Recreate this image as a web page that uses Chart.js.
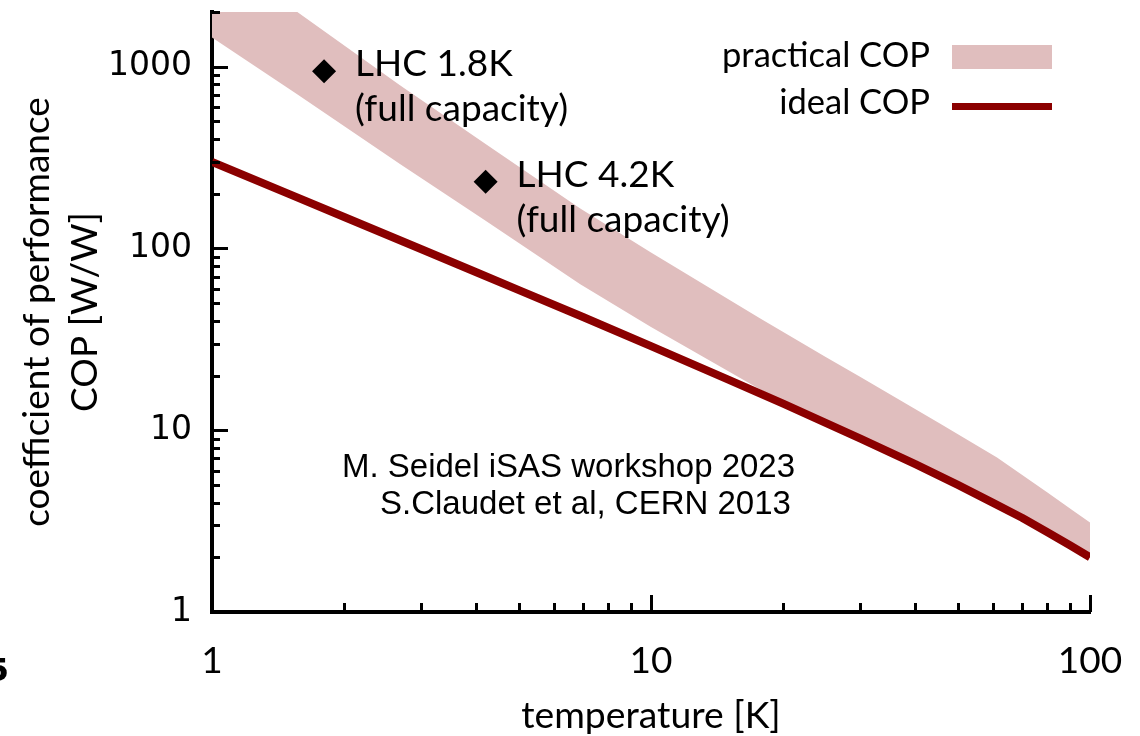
<!DOCTYPE html>
<html><head><meta charset="utf-8">
<script src="https://cdn.jsdelivr.net/npm/chart.js@4.4.0/dist/chart.umd.min.js"></script>
<style>html,body{margin:0;padding:0;background:#fff;}#wrap{width:1140px;height:736px;}</style>
</head><body><div id="wrap"><canvas id="c" width="1140" height="736"></canvas></div>
<script>
// ---- data ----
const idealT   = [1, 1.5, 2, 3, 4, 5, 7, 10, 15, 20, 30, 40, 50, 60, 70, 80, 90, 100];
const idealCOP = [299, 199, 149, 99, 74, 59, 42, 29, 19, 14, 9, 6.5, 5, 4, 3.3, 2.75, 2.33, 2];
const bandT          = [1, 1.56, 2.68, 4.2, 6.9, 10, 17.7, 25, 30, 45.5, 61.4, 80, 91.4, 100];
const practicalUpper = [4000, 2010, 790, 376, 166, 95, 41.3, 25.3, 19.6, 10.9, 7.07, 4.54, 3.62, 3.11];
const practicalLower = [1450, 707, 292, 142, 63.5, 37, 16.8, 11, 9, 5.6, 3.9, 2.75, 2.28, 2];
const lhcT   = [1.8, 4.2];
const lhcCOP = [944, 233];
const lhcLabels = [['LHC 1.8K', '(full capacity)'], ['LHC 4.2K', '(full capacity)']];
const xTickValues = [1, 10, 100];
const yTickValues = [1, 10, 100, 1000];
const seriesNames = ['practical COP', 'ideal COP'];
const creditLines = ['M. Seidel iSAS workshop 2023', 'S.Claudet et al, CERN 2013'];
const xTitle = 'temperature [K]';
const yTitle = ['coefficient of performance', 'COP [W/W]'];

const DARK = '#8B0000', PINK = 'rgb(224,190,190)';
const CAL = 'Lato';
const toPts = (xs, ys) => xs.map((x, i) => ({x, y: ys[i]}));

const decor = {
  id: 'decor',
  afterDraw(chart) {
    const ctx = chart.ctx, xs = chart.scales.x, ys = chart.scales.y, a = chart.chartArea;
    ctx.save();
    // inward tick marks
    ctx.strokeStyle = '#000'; ctx.lineWidth = 3; ctx.beginPath();
    for (const d of [1, 10, 100, 1000]) for (let m = 1; m <= 9; m++) {
      const v = m * d; if (v > ys.max * 1.0001) break;
      const y = Math.round(ys.getPixelForValue(v)) + 0.5, len = m === 1 ? 16 : 8;
      ctx.moveTo(a.left, y); ctx.lineTo(a.left + len, y);
    }
    for (const d of [1, 10, 100]) for (let m = 1; m <= 9; m++) {
      const v = m * d; if (v > xs.max * 1.0001) break;
      const x = Math.round(xs.getPixelForValue(v)) + 0.5, len = m === 1 ? 17 : 9;
      ctx.moveTo(x, a.bottom); ctx.lineTo(x, a.bottom - len);
    }
    ctx.stroke();
    // LHC labels
    ctx.fillStyle = '#000'; ctx.textBaseline = 'middle'; ctx.textAlign = 'left';
    ctx.font = '37px ' + CAL;
    lhcT.forEach((t, i) => {
      const px = xs.getPixelForValue(t), py = ys.getPixelForValue(lhcCOP[i]);
      ctx.fillText(lhcLabels[i][0], px + 31, py - 7);
      ctx.fillText(lhcLabels[i][1], px + 31, py + 38);
    });
    // legend
    ctx.font = '34.5px ' + CAL;
    ctx.textAlign = 'right';
    ctx.fillText(seriesNames[0], 930, 56);
    ctx.fillText(seriesNames[1], 930, 103);
    ctx.fillStyle = PINK; ctx.fillRect(952, 45, 100, 24);
    ctx.fillStyle = DARK; ctx.fillRect(952, 103, 100, 7);
    // credit text
    ctx.fillStyle = '#000'; ctx.textAlign = 'left';
    ctx.font = '33px "Liberation Sans"';
    ctx.fillText(creditLines[0], 342, 468);
    ctx.fillText(creditLines[1], 380, 505);
    // clipped digit at the left edge
    ctx.font = 'bold 32px "DejaVu Sans"'; ctx.textAlign = 'right';
    ctx.fillText('5', 9, 673);
    ctx.restore();
  }
};

new Chart(document.getElementById('c'), {
  type: 'line',
  data: {
    datasets: [
      {label: seriesNames[1], data: toPts(idealT, idealCOP), borderColor: DARK, borderWidth: 8,
       pointRadius: 0, fill: false, order: 1, borderCapStyle: 'butt', borderJoinStyle: 'round'},
      {label: 'lower', data: toPts(bandT, practicalLower), borderColor: 'rgba(0,0,0,0)', borderWidth: 1,
       pointRadius: 0, fill: false, order: 3},
      {label: seriesNames[0], data: toPts(bandT, practicalUpper), borderColor: 'rgba(0,0,0,0)', borderWidth: 1,
       backgroundColor: PINK, pointRadius: 0, fill: 1, order: 2},
      {label: 'LHC', data: toPts(lhcT, lhcCOP), showLine: false, pointStyle: 'rectRot', pointRadius: 12,
       pointBackgroundColor: '#000', pointBorderWidth: 0, pointBorderColor: '#000', order: 0}
    ]
  },
  options: {
    responsive: false, animation: false, devicePixelRatio: 1,
    layout: {padding: {top: 8, right: 50, bottom: 0, left: 0}},
    plugins: {legend: {display: false}, tooltip: {enabled: false}},
    scales: {
      x: {
        type: 'logarithmic', min: 1, max: 100, position: 'bottom',
        afterBuildTicks: s => { s.ticks = xTickValues.map(v => ({value: v})); },
        afterFit: s => { s.height = 124; s.paddingLeft = 0; s.paddingRight = 0; },
        grid: {display: false, drawTicks: false},
        border: {display: true, color: '#000', width: 4},
        ticks: {color: '#000', font: {family: CAL, size: 37}, padding: 27, maxRotation: 0, autoSkip: false,
                callback: v => String(v)},
        title: {display: true, text: xTitle, color: '#000', font: {family: CAL, size: 37.3, lineHeight: 1.1},
                padding: {top: 0, bottom: 0}}
      },
      y: {
        type: 'logarithmic', min: 1, max: 2000,
        afterBuildTicks: s => { s.ticks = yTickValues.map(v => ({value: v})); },
        afterFit: s => { s.width = 212; s.paddingTop = 0; s.paddingBottom = 0; },
        grid: {display: false, drawTicks: false},
        border: {display: true, color: '#000', width: 4},
        ticks: {color: '#000', font: {family: 'DejaVu Sans', size: 33}, padding: 20, autoSkip: false,
                callback: v => String(v)},
        title: {display: true, text: yTitle, color: '#000', font: {family: CAL, size: 37, lineHeight: 1.3},
                padding: {top: 13, bottom: 0}}
      }
    }
  },
  plugins: [decor]
});
</script></body></html>
